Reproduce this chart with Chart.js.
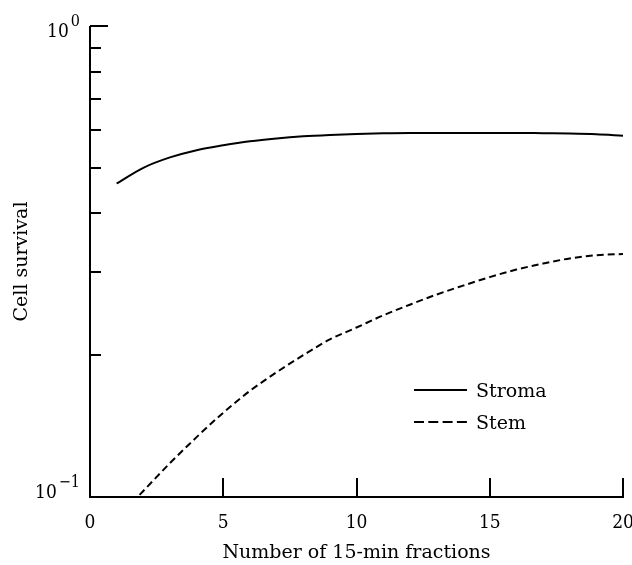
<!DOCTYPE html>
<html>
<head>
<meta charset="utf-8">
<script src="https://cdn.jsdelivr.net/npm/chart.js@4"></script>
<style>
  html, body { margin: 0; padding: 0; background: #fff; }
  #wrap { width: 632px; height: 565px; }
</style>
</head>
<body>
<div id="wrap"><canvas id="c" width="632" height="565"></canvas></div>
<script>
// Survival after repeated 15-minute fractions
const fractions      = [1, 2, 3, 4, 5, 6, 7, 8, 9, 10, 11, 12, 13, 14, 15, 16, 17, 18, 19, 20];
const stromaSurvival = [0.463, 0.500, 0.526, 0.545, 0.558, 0.569, 0.577, 0.583, 0.587, 0.590,
                        0.592, 0.593, 0.593, 0.593, 0.593, 0.593, 0.592, 0.591, 0.589, 0.585];
const stemSurvival   = [0.090, 0.103, 0.118, 0.134, 0.151, 0.168, 0.184, 0.200, 0.216, 0.229,
                        0.243, 0.256, 0.269, 0.281, 0.293, 0.304, 0.313, 0.321, 0.326, 0.328];
const seriesNames    = ['Stroma', 'Stem'];

// Axis ticks and labels
const xTickValues      = [0, 5, 10, 15, 20];
const xTickLabels      = ['0', '5', '10', '15', '20'];
const yDecadeValues    = [1, 0.1];
const yDecadeExponents = ['0', '\u22121'];
const yMinorValues     = [0.2, 0.3, 0.4, 0.5, 0.6, 0.7, 0.8, 0.9];
const xTitle = 'Number of 15-min fractions';
const yTitle = 'Cell survival';

const INK = '#000';
const SERIF = '"DejaVu Serif", serif';
const SERIF_NARROW = '"DejaVu Serif Condensed", "DejaVu Serif", serif';
const STEM_DASH = [7, 4];
const KEY_DASHES = [[], [10, 4.3]];

function toPoints(xs, ys) {
  return xs.map((x, i) => ({ x: x, y: ys[i] }));
}

// Axes, ticks, labels and key, drawn from the chart's own scales
const frame = {
  id: 'frame',
  afterDraw(chart) {
    const ctx = chart.ctx;
    const xs = chart.scales.x, ys = chart.scales.y;
    const a = chart.chartArea;
    ctx.save();
    ctx.strokeStyle = INK;
    ctx.fillStyle = INK;
    ctx.lineWidth = 2;
    ctx.lineCap = 'butt';

    // L-shaped axes
    ctx.beginPath();
    ctx.moveTo(a.left, a.top);
    ctx.lineTo(a.left, a.bottom);
    ctx.lineTo(a.right + 1, a.bottom);
    ctx.stroke();

    // x ticks (pointing up, inside the plot)
    ctx.beginPath();
    xTickValues.forEach(v => {
      const px = Math.round(xs.getPixelForValue(v));
      ctx.moveTo(px, a.bottom);
      ctx.lineTo(px, a.bottom - 19);
    });
    // y ticks (pointing right)
    yDecadeValues.forEach(v => {
      const py = Math.round(ys.getPixelForValue(v));
      ctx.moveTo(a.left, py);
      ctx.lineTo(a.left + 18, py);
    });
    yMinorValues.forEach(v => {
      const py = Math.round(ys.getPixelForValue(v));
      ctx.moveTo(a.left, py);
      ctx.lineTo(a.left + 11, py);
    });
    ctx.stroke();

    // x tick labels
    ctx.font = '19px ' + SERIF_NARROW;
    ctx.textAlign = 'center';
    ctx.textBaseline = 'alphabetic';
    xTickValues.forEach((v, i) => {
      ctx.fillText(xTickLabels[i], xs.getPixelForValue(v), a.bottom + 31);
    });

    // y decade labels: 10 with a raised exponent
    yDecadeValues.forEach((v, i) => {
      const py = ys.getPixelForValue(v);
      const baseLine = Math.min(py + 11, a.bottom + 1);
      const rightEdge = a.left - 10;
      ctx.textAlign = 'right';
      ctx.textBaseline = 'alphabetic';
      ctx.font = '16px ' + SERIF_NARROW;
      const ew = ctx.measureText(yDecadeExponents[i]).width;
      ctx.fillText(yDecadeExponents[i], rightEdge, baseLine - 11);
      ctx.font = '19px ' + SERIF_NARROW;
      ctx.fillText('10', rightEdge - ew - 2, baseLine);
    });

    // axis titles
    ctx.font = '19px ' + SERIF;
    ctx.textAlign = 'center';
    ctx.textBaseline = 'alphabetic';
    ctx.fillText(xTitle, (a.left + a.right) / 2, a.bottom + 61);
    ctx.save();
    ctx.translate(27, (a.top + a.bottom) / 2);
    ctx.rotate(-Math.PI / 2);
    ctx.fillText(yTitle, 0, 0);
    ctx.restore();

    // key
    const keyX = 414, keyLen = 53, keyY = [390, 422];
    chart.data.datasets.forEach((ds, i) => {
      ctx.beginPath();
      ctx.lineWidth = 2;
      ctx.setLineDash(KEY_DASHES[i]);
      ctx.moveTo(keyX, keyY[i]);
      ctx.lineTo(keyX + keyLen, keyY[i]);
      ctx.stroke();
      ctx.setLineDash([]);
      ctx.textAlign = 'left';
      ctx.textBaseline = 'alphabetic';
      ctx.font = '19px ' + SERIF;
      ctx.fillText(ds.label, keyX + keyLen + 9, keyY[i] + 7);
    });
    ctx.restore();
  }
};

new Chart(document.getElementById('c'), {
  type: 'line',
  data: {
    datasets: [
      {
        label: seriesNames[0],
        data: toPoints(fractions, stromaSurvival),
        borderColor: INK,
        borderWidth: 2,
        pointRadius: 0,
        cubicInterpolationMode: 'monotone',
        fill: false
      },
      {
        label: seriesNames[1],
        data: toPoints(fractions, stemSurvival),
        borderColor: INK,
        borderWidth: 2,
        borderDash: STEM_DASH,
        pointRadius: 0,
        cubicInterpolationMode: 'monotone',
        fill: false
      }
    ]
  },
  options: {
    responsive: false,
    devicePixelRatio: 1,
    animation: false,
    layout: { padding: { left: 90, right: 9, top: 26, bottom: 68 } },
    plugins: { legend: { display: false }, tooltip: { enabled: false } },
    scales: {
      x: { type: 'linear', min: 0, max: 20, display: false },
      y: { type: 'logarithmic', min: 0.1, max: 1, display: false }
    }
  },
  plugins: [frame]
});
</script>
</body>
</html>
